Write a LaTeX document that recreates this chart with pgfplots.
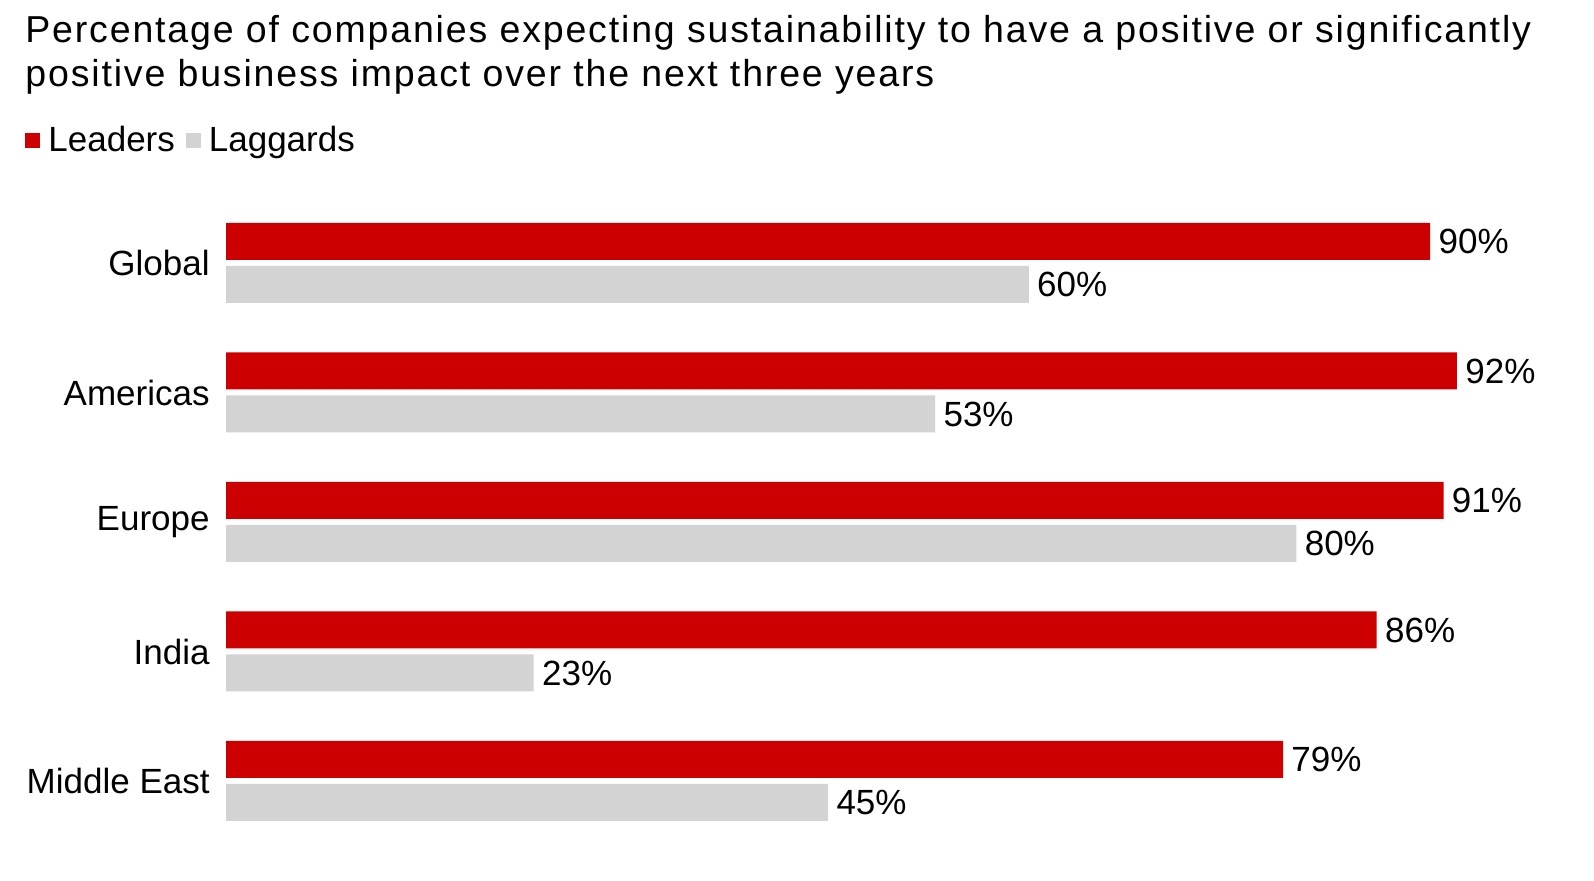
\documentclass[border=0pt]{standalone}
\usepackage{pgfplots}
\pgfplotsset{compat=1.18}
\usepackage{fontspec}
\setmainfont{Liberation Sans}
\newfontfamily\titlefont[LetterSpace=4.9]{Liberation Sans}
\definecolor{lead}{HTML}{CC0000}
\definecolor{lag}{HTML}{D3D3D3}
\pgfplotstableread{
y v
4 90
3 92
2 91
1 86
0 79
}\leaders
\pgfplotstableread{
y v
4 60
3 53
2 80
1 23
0 45
}\laggards
\begin{document}
\begin{tikzpicture}
\node[anchor=base west, inner sep=0pt, font=\titlefont\fontsize{18.75}{22}\selectfont] at (12.5pt,-21.5pt) {Percentage of companies expecting sustainability to have a positive or significantly};
\node[anchor=base west, inner sep=0pt, font=\titlefont\fontsize{18.75}{22}\selectfont] at (12.5pt,-43.5pt) {positive business impact over the next three years};
\begin{axis}[
  at={(113pt,-99.125pt)}, anchor=north west,
  scale only axis, width=669pt, height=323.75pt,
  xmin=0, xmax=100, ymin=-0.5, ymax=4.5,
  xbar, bar width=18.5pt,
  axis line style={draw=none},
  xtick=\empty,
  ytick={0,1,2,3,4},
  yticklabels={Middle East,India,Europe,Americas,Global},
  major tick length=0pt,
  yticklabel style={font=\fontsize{17.5}{20}\selectfont, inner sep=0pt, xshift=-8pt},
  /pgf/number format/assume math mode=true,
  point meta=x,
  nodes near coords={\pgfmathprintnumber{\pgfplotspointmeta}\%},
  every node near coord/.append style={anchor=west, inner sep=0pt, xshift=4pt, font=\fontsize{17.5}{20}\selectfont, text=black},
  legend columns=2,
  legend image code/.code={\fill[#1] (0pt,-3.75pt) rectangle (7.5pt,3.75pt);},
  legend style={at={(-0.1502,1.0892)}, anchor=west, draw=none, fill=none, inner sep=0pt,
    font=\fontsize{17.5}{20}\selectfont, nodes={inner sep=0pt},
    /tikz/every odd column/.append style={column sep=4pt},
    /tikz/every even column/.append style={column sep=5.5pt}},
]
\addplot[fill=lead, draw=none, bar shift=10.75pt] table[x=v, y=y] {\leaders};
\addplot[fill=lag, draw=none, bar shift=-10.75pt] table[x=v, y=y] {\laggards};
\legend{Leaders, Laggards}
\end{axis}
\pgfresetboundingbox
\path[use as bounding box] (0,0) rectangle (797pt,-440.5pt);
\end{tikzpicture}%
\end{document}
